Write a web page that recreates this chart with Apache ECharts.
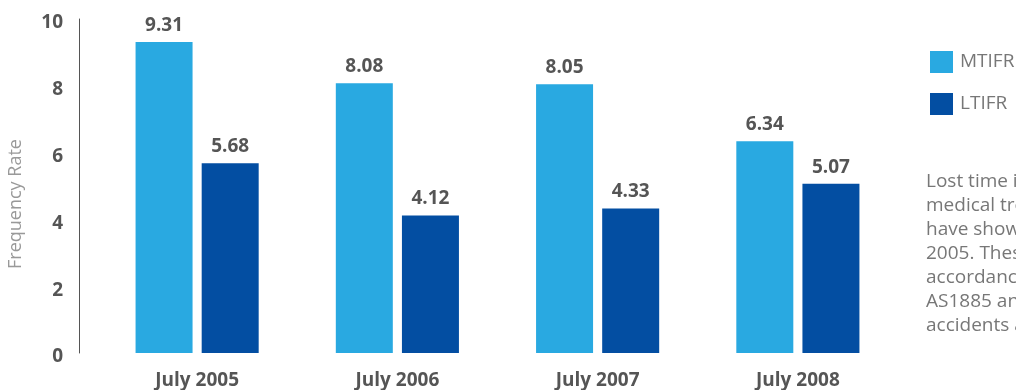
<!DOCTYPE html>
<html>
<head>
<meta charset="utf-8">
<script src="https://cdn.jsdelivr.net/npm/echarts@6/dist/echarts.min.js"></script>
<style>
  html, body { margin: 0; padding: 0; background: #fff; }
  #chart { width: 1016px; height: 390px; }
</style>
</head>
<body>
<div id="chart"></div>
<script>
var years = ['July 2005', 'July 2006', 'July 2007', 'July 2008'];
var mtifr = [9.31, 8.08, 8.05, 6.34];
var ltifr = [5.68, 4.12, 4.33, 5.07];
var noteLines = ['Lost time injury and', 'medical treatment injury', 'have shown a decline since', '2005. These rates are', 'accordance with the', 'AS1885 and include', 'accidents at work'];

var chart = echarts.init(document.getElementById('chart'));

var labelStyle = {
    show: true,
    position: 'top',
    distance: 7,
    color: '#555',
    fontFamily: 'Open Sans',
    fontWeight: 'bold',
    fontSize: 19
};

var option = {
    animation: false,
    grid: { left: 97, right: 118, top: 19, bottom: 37 },
    legend: {
        orient: 'vertical',
        left: 925,
        top: 46,
        itemWidth: 23,
        itemHeight: 22,
        itemGap: 20,
        icon: 'rect',
        textStyle: { color: '#777', fontFamily: 'Open Sans', fontSize: 19, padding: [0, 0, 0, 2] },
        data: ['MTIFR', 'LTIFR']
    },
    xAxis: {
        type: 'category',
        data: years,
        axisLine: { show: false },
        axisTick: { show: false },
        axisLabel: {
            color: '#555',
            fontFamily: 'Open Sans',
            fontWeight: 'bold',
            fontSize: 19,
            margin: 18
        }
    },
    yAxis: {
        type: 'value',
        min: 0,
        max: 10,
        interval: 2,
        offset: 18,
        axisLine: { show: true, lineStyle: { color: '#555', width: 1 } },
        axisTick: { show: false },
        splitLine: { show: false },
        axisLabel: {
            color: '#555',
            fontFamily: 'Open Sans',
            fontWeight: 'bold',
            fontSize: 19,
            margin: 16,
            verticalAlign: 'top',
            lineHeight: 8
        }
    },
    graphic: [
        {
            type: 'text',
            x: 16,
            y: 204,
            rotation: Math.PI / 2,
            style: {
                text: 'Frequency Rate',
                fill: '#999',
                font: '18px "Open Sans"',
                textAlign: 'center',
                textVerticalAlign: 'middle'
            }
        },
        {
            type: 'text',
            left: 926,
            top: 170,
            style: {
                text: noteLines.join('\n'),
                fill: '#777',
                font: '19px "Open Sans"',
                lineHeight: 24
            }
        }
    ],
    series: [
        {
            name: 'MTIFR',
            type: 'bar',
            barWidth: 57,
            barGap: '16%',
            data: mtifr,
            itemStyle: { color: '#29A9E1' },
            label: labelStyle
        },
        {
            name: 'LTIFR',
            type: 'bar',
            barWidth: 57,
            barGap: '16%',
            data: ltifr,
            itemStyle: { color: '#034EA2' },
            label: labelStyle
        }
    ]
};

chart.setOption(option);
</script>
</body>
</html>
